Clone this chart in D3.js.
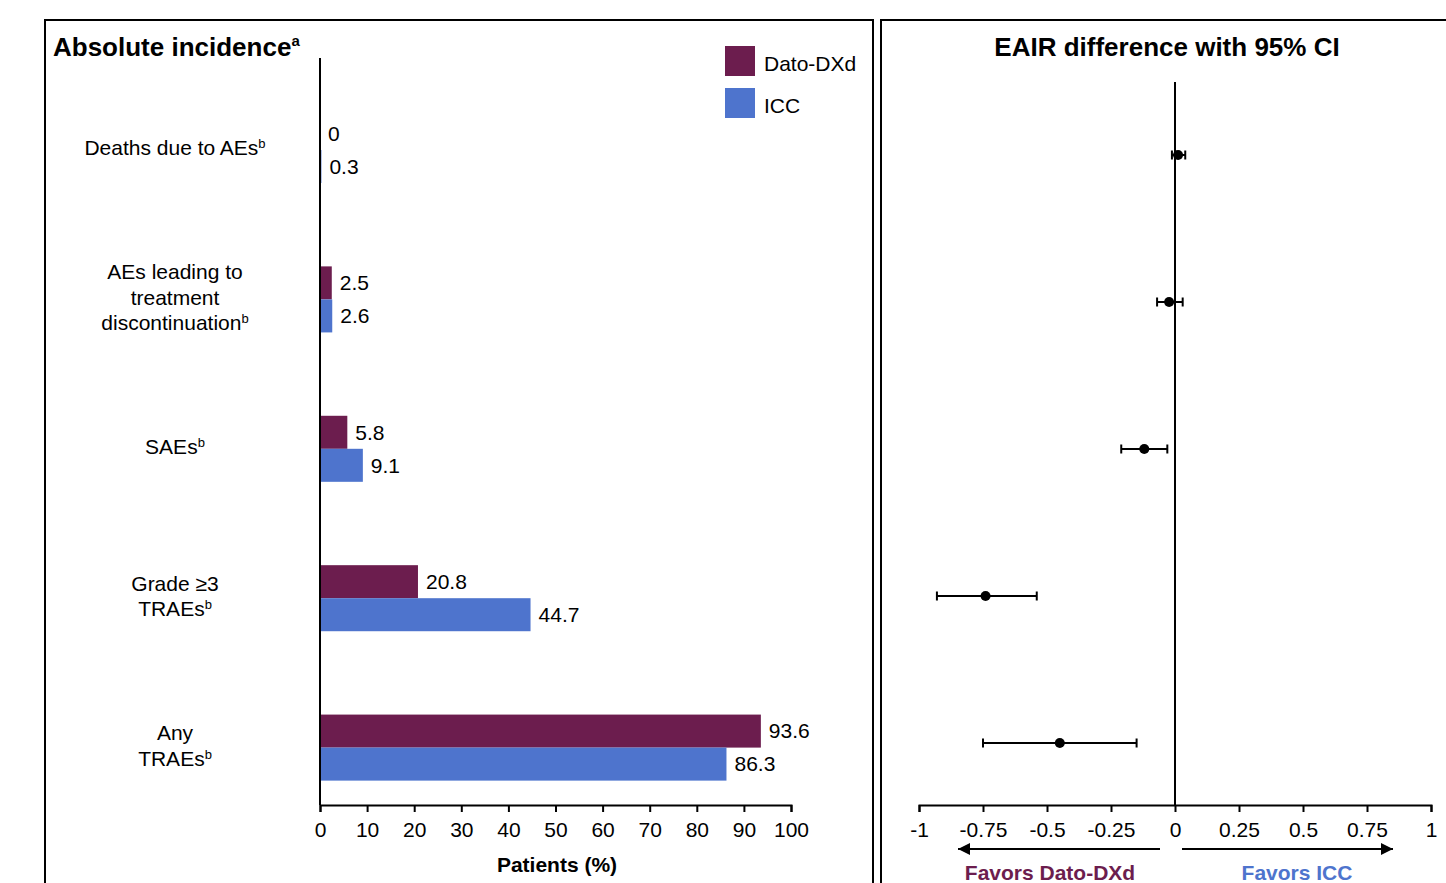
<!DOCTYPE html>
<html>
<head>
<meta charset="utf-8">
<script src="https://cdn.jsdelivr.net/npm/d3@7"></script>
<style>
    body { margin: 0; background: #fff; }
    svg { font-family: "Liberation Sans", Arial, sans-serif; }
</style>
</head>
<body>
<svg id="chart"></svg>
<script>
// Categories (label lines; last line carries superscript b)
const categories = ['Deaths', 'AEs leading', 'SAEs', 'Grade3', 'Any'];
const categoryLines = [
    ['Deaths due to AEs'],
    ['AEs leading to', 'treatment', 'discontinuation'],
    ['SAEs'],
    ['Grade \u22653', 'TRAEs'],
    ['Any', 'TRAEs']
];
const seriesNames = ['Dato-DXd', 'ICC'];
const datoValues = [0, 2.5, 5.8, 20.8, 93.6];
const iccValues = [0.3, 2.6, 9.1, 44.7, 86.3];
const barTicks = [0, 10, 20, 30, 40, 50, 60, 70, 80, 90, 100];

// EAIR difference with 95% CI
const eairEstimate = [0.012, -0.023, -0.12, -0.74, -0.45];
const eairLower = [-0.012, -0.07, -0.21, -0.93, -0.75];
const eairUpper = [0.04, 0.03, -0.03, -0.54, -0.15];
const eairTicks = [-1, -0.75, -0.5, -0.25, 0, 0.25, 0.5, 0.75, 1];

const colors = { 'Dato-DXd': '#6c1d4e', 'ICC': '#4e74cd' };
const FS = 21;

const svg = d3.select('#chart').attr('width', 1446).attr('height', 883);

// Panel frames
svg.append('path')
    .attr('d', 'M45,890V20H873V890')
    .attr('fill', 'none').attr('stroke', '#000').attr('stroke-width', 2);
svg.append('path')
    .attr('d', 'M881,890V20H1450')
    .attr('fill', 'none').attr('stroke', '#000').attr('stroke-width', 2);

// ---------- Left panel: bars ----------
const x = d3.scaleLinear().domain([0, 100]).range([320, 791]);
const y = d3.scaleBand().domain(categories).range([75.3, 822.3])
    .paddingInner(0.558).paddingOuter(0.279);
const ySub = d3.scaleBand().domain(seriesNames).range([0, y.bandwidth()]);

const title = svg.append('text').attr('x', 53).attr('y', 56)
    .attr('font-size', 26).attr('font-weight', 'bold');
title.append('tspan').text('Absolute incidence');
title.append('tspan').attr('font-size', 15).attr('dy', -10).text('a');

const rows = categories.map((c, i) => ({
    cat: c, lines: categoryLines[i],
    vals: [{ s: 'Dato-DXd', v: datoValues[i] }, { s: 'ICC', v: iccValues[i] }]
}));

const groups = svg.append('g').selectAll('g').data(rows).enter().append('g')
    .attr('transform', d => `translate(0,${y(d.cat)})`);

groups.selectAll('rect').data(d => d.vals).enter().append('rect')
    .attr('x', x(0))
    .attr('y', d => ySub(d.s))
    .attr('width', d => x(d.v) - x(0))
    .attr('height', ySub.bandwidth())
    .attr('fill', d => colors[d.s]);

groups.selectAll('.val').data(d => d.vals).enter().append('text')
    .attr('class', 'val')
    .attr('x', d => x(d.v) + 8)
    .attr('y', d => ySub(d.s) + ySub.bandwidth() / 2)
    .attr('dy', '0.35em')
    .attr('font-size', FS)
    .text(d => d.v);

// Category labels
groups.each(function (d) {
    const g = d3.select(this);
    const lh = 25.5;
    const n = d.lines.length;
    d.lines.forEach((line, j) => {
        const t = g.append('text')
            .attr('x', 175)
            .attr('y', y.bandwidth() / 2 + (j - (n - 1) / 2) * lh - 2)
            .attr('dy', '0.35em')
            .attr('text-anchor', 'middle')
            .attr('font-size', FS);
        t.append('tspan').text(line);
        if (j === n - 1) {
            t.append('tspan').attr('font-size', 13).attr('dy', -7).text('b');
        }
    });
});

// Axes
svg.append('line').attr('x1', 320).attr('x2', 320).attr('y1', 58).attr('y2', 805)
    .attr('stroke', '#000').attr('stroke-width', 2);
const xAxis = svg.append('g').attr('transform', 'translate(0,805)')
    .call(d3.axisBottom(x).tickValues(barTicks).tickSize(7).tickPadding(10));
xAxis.select('.domain').attr('stroke-width', 2);
xAxis.selectAll('.tick line').attr('stroke-width', 2);
xAxis.selectAll('text').attr('font-size', FS).attr('font-family', 'Liberation Sans, Arial, sans-serif');

svg.append('text').attr('x', 557).attr('y', 872).attr('text-anchor', 'middle')
    .attr('font-size', FS).attr('font-weight', 'bold').text('Patients (%)');

// Legend
const legend = svg.append('g').selectAll('g').data(seriesNames).enter().append('g')
    .attr('transform', (d, i) => `translate(725,${46 + i * 42})`);
legend.append('rect').attr('width', 30).attr('height', 30).attr('fill', d => colors[d]);
legend.append('text').attr('x', 39).attr('y', 18).attr('dy', '0.35em')
    .attr('font-size', FS).text(d => d);

// ---------- Right panel: forest ----------
const fx = d3.scaleLinear().domain([-1, 1]).range([919, 1431]);
const fy = d3.scalePoint().domain(categories).range([155, 743]);

svg.append('text').attr('x', 1167).attr('y', 56).attr('text-anchor', 'middle')
    .attr('font-size', 26).attr('font-weight', 'bold').text('EAIR difference with 95% CI');

svg.append('line').attr('x1', fx(0)).attr('x2', fx(0)).attr('y1', 82).attr('y2', 805)
    .attr('stroke', '#000').attr('stroke-width', 2);

const fAxis = svg.append('g').attr('transform', 'translate(0,805)')
    .call(d3.axisBottom(fx).tickValues(eairTicks).tickSize(7).tickPadding(10)
        .tickFormat(d => String(d)));
fAxis.select('.domain').attr('stroke-width', 2);
fAxis.selectAll('.tick line').attr('stroke-width', 2);
fAxis.selectAll('text').attr('font-size', FS).attr('font-family', 'Liberation Sans, Arial, sans-serif');

const forest = categories.map((c, i) => ({
    cat: c, est: eairEstimate[i], lo: eairLower[i], hi: eairUpper[i]
}));
const fg = svg.append('g').selectAll('g').data(forest).enter().append('g')
    .attr('transform', d => `translate(0,${fy(d.cat)})`);
fg.append('line').attr('x1', d => fx(d.lo)).attr('x2', d => fx(d.hi))
    .attr('stroke', '#000').attr('stroke-width', 2);
fg.append('line').attr('x1', d => fx(d.lo)).attr('x2', d => fx(d.lo))
    .attr('y1', -4.5).attr('y2', 4.5).attr('stroke', '#000').attr('stroke-width', 2);
fg.append('line').attr('x1', d => fx(d.hi)).attr('x2', d => fx(d.hi))
    .attr('y1', -4.5).attr('y2', 4.5).attr('stroke', '#000').attr('stroke-width', 2);
fg.append('circle').attr('cx', d => fx(d.est)).attr('r', 5).attr('fill', '#000');

// Direction arrows
svg.append('defs').append('marker')
    .attr('id', 'arrowhead')
    .attr('viewBox', '0 -5 10 10')
    .attr('refX', 10).attr('refY', 0)
    .attr('markerWidth', 14).attr('markerHeight', 12)
    .attr('markerUnits', 'userSpaceOnUse')
    .attr('orient', 'auto')
    .append('path').attr('d', 'M0,-5L10,0L0,5').attr('fill', '#000');

svg.append('line').attr('x1', 1160).attr('x2', 958).attr('y1', 849).attr('y2', 849)
    .attr('stroke', '#000').attr('stroke-width', 2).attr('marker-end', 'url(#arrowhead)');
svg.append('line').attr('x1', 1182).attr('x2', 1393).attr('y1', 849).attr('y2', 849)
    .attr('stroke', '#000').attr('stroke-width', 2).attr('marker-end', 'url(#arrowhead)');

svg.append('text').attr('x', 1050).attr('y', 880).attr('text-anchor', 'middle')
    .attr('font-size', FS).attr('font-weight', 'bold').attr('fill', '#6c1d4e')
    .text('Favors Dato-DXd');
svg.append('text').attr('x', 1297).attr('y', 880).attr('text-anchor', 'middle')
    .attr('font-size', FS).attr('font-weight', 'bold').attr('fill', '#4e74cd')
    .text('Favors ICC');
</script>
</body>
</html>
